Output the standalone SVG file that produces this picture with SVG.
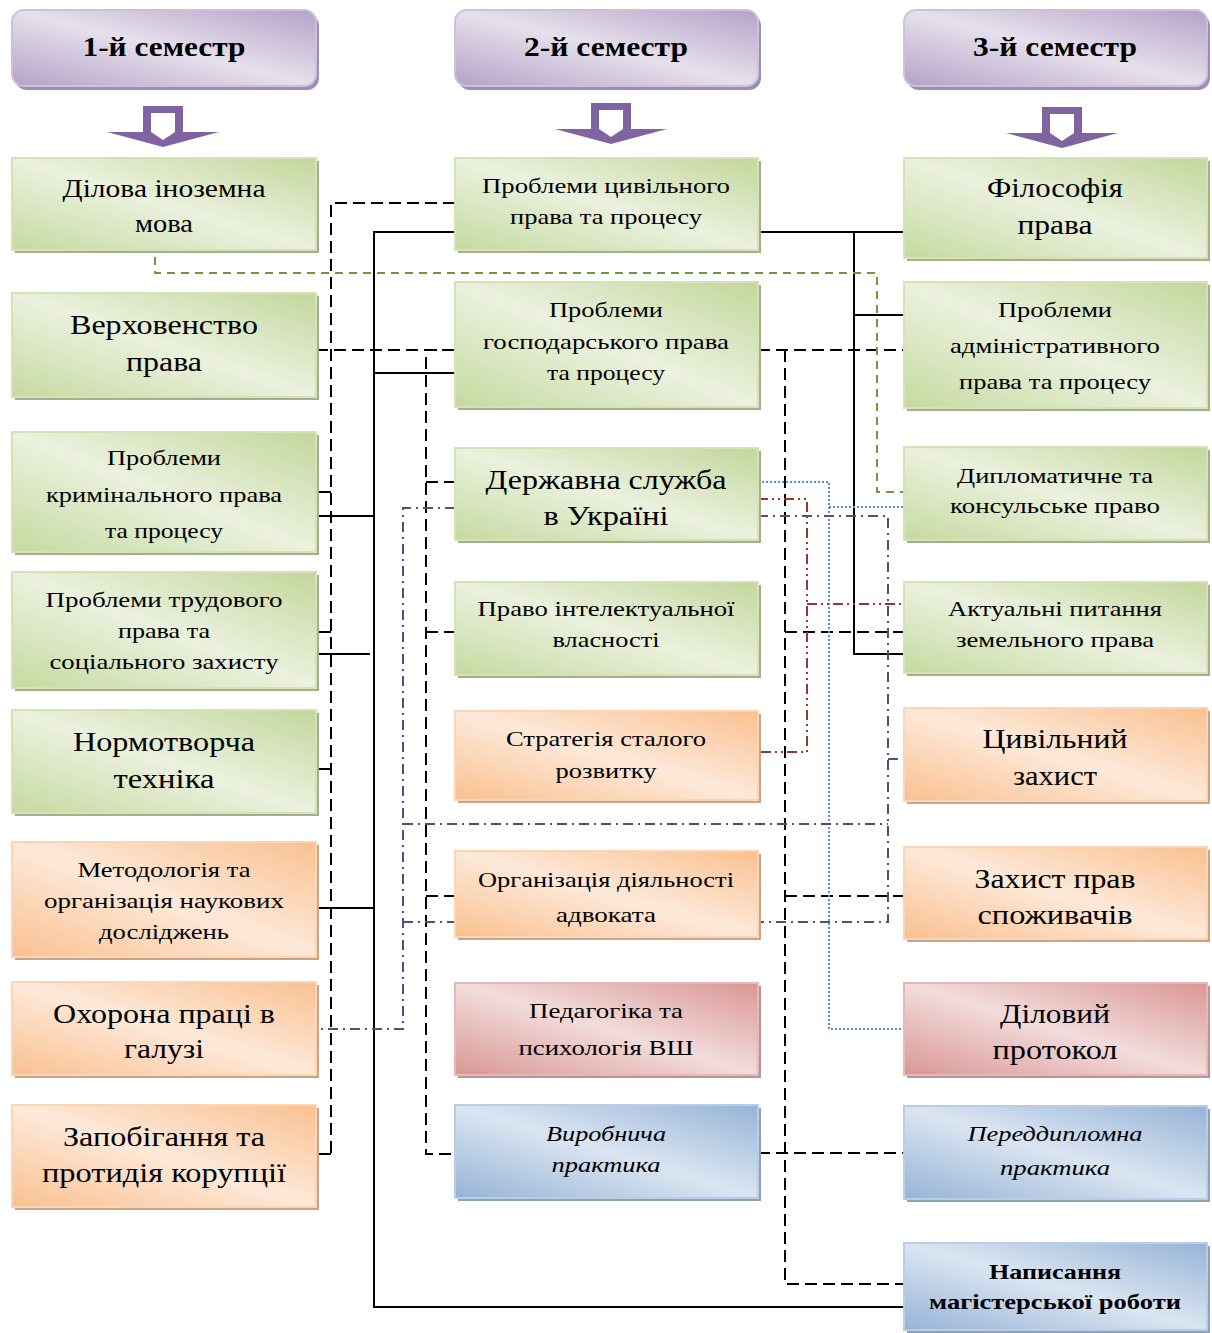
<svg xmlns="http://www.w3.org/2000/svg" width="1212" height="1333" viewBox="0 0 1212 1333">
<defs>
<linearGradient id="gGreen" x1="1" y1="0" x2="0" y2="1"><stop offset="0" stop-color="#c3d69b"/><stop offset="0.5" stop-color="#ebf1de"/><stop offset="1" stop-color="#c6d9a0"/></linearGradient>
<linearGradient id="gOrange" x1="1" y1="0" x2="0" y2="1"><stop offset="0" stop-color="#fac090"/><stop offset="0.5" stop-color="#fde9d9"/><stop offset="1" stop-color="#fac090"/></linearGradient>
<linearGradient id="gRed" x1="1" y1="0" x2="0" y2="1"><stop offset="0" stop-color="#d99694"/><stop offset="0.5" stop-color="#f2dcdb"/><stop offset="1" stop-color="#d99694"/></linearGradient>
<linearGradient id="gBlue" x1="1" y1="0" x2="0" y2="1"><stop offset="0" stop-color="#95b3d7"/><stop offset="0.5" stop-color="#dbe5f1"/><stop offset="1" stop-color="#95b3d7"/></linearGradient>
<linearGradient id="gPurple" x1="1" y1="0" x2="0" y2="1"><stop offset="0" stop-color="#b3a2c7"/><stop offset="0.5" stop-color="#e6e0ec"/><stop offset="1" stop-color="#b3a2c7"/></linearGradient>
</defs>
<style>
.t{font-family:"Liberation Serif","Times New Roman",serif;fill:#000;text-anchor:middle}
.s{font-size:22px}.m{font-size:25px}.b{font-size:27px}
.h{font-size:28px;font-weight:bold}
.it{font-style:italic}.bd{font-weight:bold}
.green rect.box{fill:url(#gGreen);stroke:#d4e2b6;stroke-width:2}
.green rect.sh{fill:#a6ae8e}
.orange rect.box{fill:url(#gOrange);stroke:#fcd5b4;stroke-width:2}
.orange rect.sh{fill:#c9a486}
.red rect.box{fill:url(#gRed);stroke:#e6b9b8;stroke-width:2}
.red rect.sh{fill:#b39695}
.blue rect.box{fill:url(#gBlue);stroke:#b9cde5;stroke-width:2}
.blue rect.sh{fill:#8fa1b8}
.hdr rect.box{fill:url(#gPurple);stroke:#ccc1da;stroke-width:2}
.hdr rect.sh{fill:#a08cb8}
.aout{fill:#8064a2}
.ain{fill:#fff}
.ln{fill:none;stroke-width:2}
.solid{stroke:#000}
.dash{stroke:#000;stroke-dasharray:12 6}
.gdash{stroke:#77933c;stroke-dasharray:8 6}
.blu{stroke:#558ed5;stroke-dasharray:2 2}
.rdd{stroke:#953735;stroke-dasharray:10 4 2 4 2 4}
.pdd{stroke:#5f497a;stroke-dasharray:10 5 2 5}
</style>
<rect width="1212" height="1333" fill="#fff"/>

<g id="connectors">
<path class="ln solid" d="M455,232 H374 V1307 H904"/>
<path class="ln solid" d="M374,373 H455"/>
<path class="ln solid" d="M316,516 H374"/>
<path class="ln solid" d="M312,654 H370"/>
<path class="ln solid" d="M316,908 H374"/>
<path class="ln solid" d="M758,232 H904"/>
<path class="ln solid" d="M854,232 V654 H904"/>
<path class="ln solid" d="M854,315 H904"/>
<path class="ln solid" d="M316,492 H331"/>
<path class="ln solid" d="M316,632 H331"/>
<path class="ln solid" d="M316,769 H331"/>
<path class="ln solid" d="M316,1154 H331"/>
<path class="ln dash" d="M455,203 H331 V1154"/>
<path class="ln dash" d="M316,350 H455"/>
<path class="ln dash" d="M455,350 H426 V1154 H455"/>
<path class="ln dash" d="M426,482 H455"/>
<path class="ln dash" d="M426,632 H455"/>
<path class="ln dash" d="M426,896 H455"/>
<path class="ln dash" d="M758,350 H904"/>
<path class="ln dash" d="M785,350 V1284 H904"/>
<path class="ln dash" d="M785,632 H904"/>
<path class="ln dash" d="M785,896 H904"/>
<path class="ln dash" d="M758,1153 H904"/>
<path class="ln gdash" d="M155,257 V273 H877 V492 H904"/>
<path class="ln blu" d="M758,482 H829 V1029 H904"/>
<path class="ln blu" d="M829,507 H904"/>
<path class="ln rdd" d="M758,499 H807 V752 H758"/>
<path class="ln rdd" d="M807,604 H904"/>
<path class="ln pdd" d="M758,516 H888 V922 H758"/>
<path class="ln pdd" d="M888,759 H904"/>
<path class="ln pdd" d="M455,508 H403 V1029 H316"/>
<path class="ln pdd" d="M403,824 H888"/>
<path class="ln pdd" d="M403,922 H455"/>
</g>

<g id="arrows">
<g id="arrow1"><path class="aout" d="M143,106 H183 V132 H219 L163,147 L107,132 H143 Z"/><path class="ain" d="M151,113 H175 V132 L163,140 L151,132 Z"/></g>
<g id="arrow2"><path class="aout" d="M591,103 H631 V129 H667 L611,144 L555,129 H591 Z"/><path class="ain" d="M599,110 H623 V129 L611,137 L599,129 Z"/></g>
<g id="arrow3"><path class="aout" d="M1042,107 H1082 V133 H1118 L1062,148 L1006,133 H1042 Z"/><path class="ain" d="M1050,114 H1074 V133 L1062,141 L1050,133 Z"/></g>
</g>

<g id="h1" class="hdr"><rect class="sh" x="15" y="14" width="304" height="76" rx="12"/><rect class="box" x="12" y="10" width="304" height="76" rx="12"/><text class="t h" x="164" y="56" textLength="163" lengthAdjust="spacingAndGlyphs">1-й семестр</text></g>
<g id="h2" class="hdr"><rect class="sh" x="458" y="14" width="303" height="76" rx="12"/><rect class="box" x="455" y="10" width="303" height="76" rx="12"/><text class="t h" x="606" y="56" textLength="164" lengthAdjust="spacingAndGlyphs">2-й семестр</text></g>
<g id="h3" class="hdr"><rect class="sh" x="907" y="14" width="303" height="76" rx="12"/><rect class="box" x="904" y="10" width="303" height="76" rx="12"/><text class="t h" x="1055" y="56" textLength="164" lengthAdjust="spacingAndGlyphs">3-й семестр</text></g>

<g id="l1" class="green"><rect class="sh" x="15" y="161" width="304" height="92"/><rect class="box" x="12" y="158" width="304" height="92"/>
<text class="t m" x="164" y="197" textLength="203" lengthAdjust="spacingAndGlyphs">Ділова іноземна</text><text class="t m" x="164" y="232" textLength="58" lengthAdjust="spacingAndGlyphs">мова</text></g>
<g id="l2" class="green"><rect class="sh" x="15" y="296" width="304" height="104"/><rect class="box" x="12" y="293" width="304" height="104"/>
<text class="t b" x="164" y="334" textLength="188" lengthAdjust="spacingAndGlyphs">Верховенство</text><text class="t b" x="164" y="371" textLength="76" lengthAdjust="spacingAndGlyphs">права</text></g>
<g id="l3" class="green"><rect class="sh" x="15" y="435" width="304" height="120"/><rect class="box" x="12" y="432" width="304" height="120"/>
<text class="t s" x="164" y="465" textLength="114" lengthAdjust="spacingAndGlyphs">Проблеми</text><text class="t s" x="164" y="502" textLength="236" lengthAdjust="spacingAndGlyphs">кримінального права</text><text class="t s" x="164" y="538" textLength="118" lengthAdjust="spacingAndGlyphs">та процесу</text></g>
<g id="l4" class="green"><rect class="sh" x="15" y="575" width="304" height="116"/><rect class="box" x="12" y="572" width="304" height="116"/>
<text class="t s" x="164" y="607" textLength="237" lengthAdjust="spacingAndGlyphs">Проблеми трудового</text><text class="t s" x="164" y="638" textLength="92" lengthAdjust="spacingAndGlyphs">права та</text><text class="t s" x="164" y="669" textLength="229" lengthAdjust="spacingAndGlyphs">соціального захисту</text></g>
<g id="l5" class="green"><rect class="sh" x="15" y="713" width="304" height="103"/><rect class="box" x="12" y="710" width="304" height="103"/>
<text class="t b" x="164" y="751" textLength="182" lengthAdjust="spacingAndGlyphs">Нормотворча</text><text class="t b" x="164" y="788" textLength="101" lengthAdjust="spacingAndGlyphs">техніка</text></g>
<g id="l6" class="orange"><rect class="sh" x="15" y="845" width="304" height="115"/><rect class="box" x="12" y="842" width="304" height="115"/>
<text class="t s" x="164" y="877" textLength="173" lengthAdjust="spacingAndGlyphs">Методологія та</text><text class="t s" x="164" y="908" textLength="240" lengthAdjust="spacingAndGlyphs">організація наукових</text><text class="t s" x="164" y="939" textLength="130" lengthAdjust="spacingAndGlyphs">досліджень</text></g>
<g id="l7" class="orange"><rect class="sh" x="15" y="985" width="304" height="93"/><rect class="box" x="12" y="982" width="304" height="93"/>
<text class="t b" x="164" y="1023" textLength="222" lengthAdjust="spacingAndGlyphs">Охорона праці в</text><text class="t b" x="164" y="1058" textLength="80" lengthAdjust="spacingAndGlyphs">галузі</text></g>
<g id="l8" class="orange"><rect class="sh" x="15" y="1108" width="304" height="102"/><rect class="box" x="12" y="1105" width="304" height="102"/>
<text class="t b" x="164" y="1146" textLength="202" lengthAdjust="spacingAndGlyphs">Запобігання та</text><text class="t b" x="164" y="1182" textLength="244" lengthAdjust="spacingAndGlyphs">протидія корупції</text></g>

<g id="m1" class="green"><rect class="sh" x="458" y="161" width="303" height="92"/><rect class="box" x="455" y="158" width="303" height="92"/>
<text class="t s" x="606" y="193" textLength="248" lengthAdjust="spacingAndGlyphs">Проблеми цивільного</text><text class="t s" x="606" y="224" textLength="192" lengthAdjust="spacingAndGlyphs">права та процесу</text></g>
<g id="m2" class="green"><rect class="sh" x="458" y="285" width="303" height="125"/><rect class="box" x="455" y="282" width="303" height="125"/>
<text class="t s" x="606" y="317" textLength="114" lengthAdjust="spacingAndGlyphs">Проблеми</text><text class="t s" x="606" y="349" textLength="246" lengthAdjust="spacingAndGlyphs">господарського права</text><text class="t s" x="606" y="380" textLength="118" lengthAdjust="spacingAndGlyphs">та процесу</text></g>
<g id="m3" class="green"><rect class="sh" x="458" y="451" width="303" height="92"/><rect class="box" x="455" y="448" width="303" height="92"/>
<text class="t b" x="606" y="489" textLength="241" lengthAdjust="spacingAndGlyphs">Державна служба</text><text class="t b" x="606" y="525" textLength="125" lengthAdjust="spacingAndGlyphs">в Україні</text></g>
<g id="m4" class="green"><rect class="sh" x="458" y="585" width="303" height="93"/><rect class="box" x="455" y="582" width="303" height="93"/>
<text class="t s" x="606" y="616" textLength="257" lengthAdjust="spacingAndGlyphs">Право інтелектуальної</text><text class="t s" x="606" y="647" textLength="107" lengthAdjust="spacingAndGlyphs">власності</text></g>
<g id="m5" class="orange"><rect class="sh" x="458" y="714" width="303" height="89"/><rect class="box" x="455" y="711" width="303" height="89"/>
<text class="t s" x="606" y="746" textLength="200" lengthAdjust="spacingAndGlyphs">Стратегія сталого</text><text class="t s" x="606" y="778" textLength="101" lengthAdjust="spacingAndGlyphs">розвитку</text></g>
<g id="m6" class="orange"><rect class="sh" x="458" y="854" width="303" height="86"/><rect class="box" x="455" y="851" width="303" height="86"/>
<text class="t s" x="606" y="887" textLength="256" lengthAdjust="spacingAndGlyphs">Організація діяльності</text><text class="t s" x="606" y="922" textLength="100" lengthAdjust="spacingAndGlyphs">адвоката</text></g>
<g id="m7" class="red"><rect class="sh" x="458" y="986" width="303" height="92"/><rect class="box" x="455" y="983" width="303" height="92"/>
<text class="t s" x="606" y="1018" textLength="154" lengthAdjust="spacingAndGlyphs">Педагогіка та</text><text class="t s" x="606" y="1055" textLength="175" lengthAdjust="spacingAndGlyphs">психологія ВШ</text></g>
<g id="m8" class="blue"><rect class="sh" x="458" y="1108" width="303" height="93"/><rect class="box" x="455" y="1105" width="303" height="93"/>
<text class="t s it" x="606" y="1141" textLength="120" lengthAdjust="spacingAndGlyphs">Виробнича</text><text class="t s it" x="606" y="1172" textLength="109" lengthAdjust="spacingAndGlyphs">практика</text></g>

<g id="r1" class="green"><rect class="sh" x="907" y="161" width="303" height="100"/><rect class="box" x="904" y="158" width="303" height="100"/>
<text class="t b" x="1055" y="197" textLength="136" lengthAdjust="spacingAndGlyphs">Філософія</text><text class="t b" x="1055" y="234" textLength="75" lengthAdjust="spacingAndGlyphs">права</text></g>
<g id="r2" class="green"><rect class="sh" x="907" y="285" width="303" height="126"/><rect class="box" x="904" y="282" width="303" height="126"/>
<text class="t s" x="1055" y="317" textLength="114" lengthAdjust="spacingAndGlyphs">Проблеми</text><text class="t s" x="1055" y="353" textLength="210" lengthAdjust="spacingAndGlyphs">адміністративного</text><text class="t s" x="1055" y="389" textLength="192" lengthAdjust="spacingAndGlyphs">права та процесу</text></g>
<g id="r3" class="green"><rect class="sh" x="907" y="450" width="303" height="93"/><rect class="box" x="904" y="447" width="303" height="93"/>
<text class="t s" x="1055" y="483" textLength="196" lengthAdjust="spacingAndGlyphs">Дипломатичне та</text><text class="t s" x="1055" y="513" textLength="210" lengthAdjust="spacingAndGlyphs">консульське право</text></g>
<g id="r4" class="green"><rect class="sh" x="907" y="585" width="303" height="91"/><rect class="box" x="904" y="582" width="303" height="91"/>
<text class="t s" x="1055" y="616" textLength="214" lengthAdjust="spacingAndGlyphs">Актуальні питання</text><text class="t s" x="1055" y="647" textLength="198" lengthAdjust="spacingAndGlyphs">земельного права</text></g>
<g id="r5" class="orange"><rect class="sh" x="907" y="711" width="303" height="93"/><rect class="box" x="904" y="708" width="303" height="93"/>
<text class="t b" x="1055" y="748" textLength="145" lengthAdjust="spacingAndGlyphs">Цивільний</text><text class="t b" x="1055" y="785" textLength="84" lengthAdjust="spacingAndGlyphs">захист</text></g>
<g id="r6" class="orange"><rect class="sh" x="907" y="850" width="303" height="92"/><rect class="box" x="904" y="847" width="303" height="92"/>
<text class="t b" x="1055" y="888" textLength="161" lengthAdjust="spacingAndGlyphs">Захист прав</text><text class="t b" x="1055" y="924" textLength="155" lengthAdjust="spacingAndGlyphs">споживачів</text></g>
<g id="r7" class="red"><rect class="sh" x="907" y="986" width="303" height="92"/><rect class="box" x="904" y="983" width="303" height="92"/>
<text class="t b" x="1055" y="1023" textLength="110" lengthAdjust="spacingAndGlyphs">Діловий</text><text class="t b" x="1055" y="1059" textLength="125" lengthAdjust="spacingAndGlyphs">протокол</text></g>
<g id="r8" class="blue"><rect class="sh" x="907" y="1109" width="303" height="93"/><rect class="box" x="904" y="1106" width="303" height="93"/>
<text class="t s it" x="1055" y="1141" textLength="175" lengthAdjust="spacingAndGlyphs">Переддипломна</text><text class="t s it" x="1055" y="1175" textLength="110" lengthAdjust="spacingAndGlyphs">практика</text></g>
<g id="r9" class="blue"><rect class="sh" x="907" y="1246" width="303" height="87"/><rect class="box" x="904" y="1243" width="303" height="87"/>
<text class="t s bd" x="1055" y="1279" textLength="132" lengthAdjust="spacingAndGlyphs">Написання</text><text class="t s bd" x="1055" y="1309" textLength="252" lengthAdjust="spacingAndGlyphs">магістерської роботи</text></g>
</svg>
